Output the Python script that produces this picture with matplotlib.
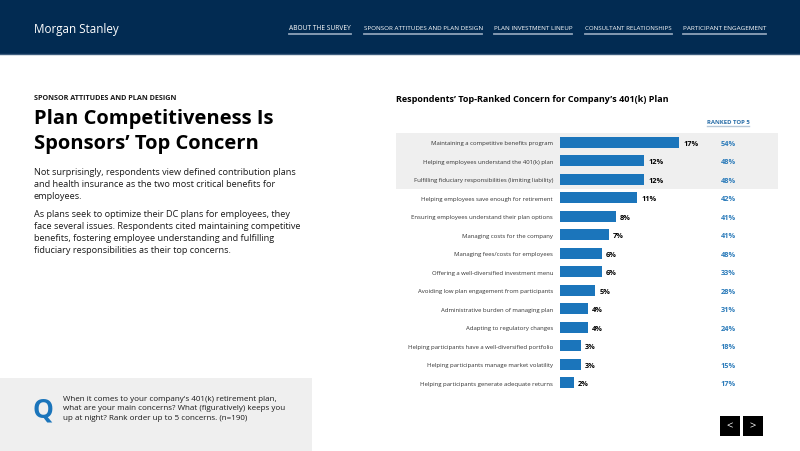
import matplotlib.pyplot as plt
from matplotlib.patches import Rectangle

plt.rcParams['font.family'] = ['Open Sans', 'DejaVu Sans']

# chart data
concerns = [
    'Maintaining a competitive benefits program',
    'Helping employees understand the 401(k) plan',
    'Fulfilling fiduciary responsibilities (limiting liability)',
    'Helping employees save enough for retirement',
    'Ensuring employees understand their plan options',
    'Managing costs for the company',
    'Managing fees/costs for employees',
    'Offering a well-diversified investment menu',
    'Avoiding low plan engagement from participants',
    'Administrative burden of managing plan',
    'Adapting to regulatory changes',
    'Helping participants have a well-diversified portfolio',
    'Helping participants manage market volatility',
    'Helping participants generate adequate returns',
]
top_ranked = [17, 12, 12, 11, 8, 7, 6, 6, 5, 4, 4, 3, 3, 2]
ranked_top5 = [54, 48, 48, 42, 41, 41, 48, 33, 28, 31, 24, 18, 15, 17]
n_highlight = 3

nav_items = ['ABOUT THE SURVEY', 'SPONSOR ATTITUDES AND PLAN DESIGN',
             'PLAN INVESTMENT LINEUP', 'CONSULTANT RELATIONSHIPS',
             'PARTICIPANT ENGAGEMENT']
nav_left = [289, 364, 494, 585, 683]
nav_right = [351, 482, 572, 672, 766]

body_par1 = ('Not surprisingly, respondents view defined contribution plans\n'
             'and health insurance as the two most critical benefits for\n'
             'employees.')
body_par2 = ('As plans seek to optimize their DC plans for employees, they\n'
             'face several issues. Respondents cited maintaining competitive\n'
             'benefits, fostering employee understanding and fulfilling\n'
             'fiduciary responsibilities as their top concerns.')
question = ("When it comes to your company's 401(k) retirement plan,\n"
            "what are your main concerns? What (figuratively) keeps you\n"
            "up at night? Rank order up to 5 concerns. (n=190)")

NAVY = '#022b52'
BLUE = '#1b75bb'
LIGHT_BLUE = '#2b7bba'
GRAY = '#efefef'
TEXT = '#1a1a1a'

W, H = 800, 452
fig = plt.figure(figsize=(W / 100, H / 100), dpi=100)
fig.patch.set_facecolor('white')


def px_box(x0, y0, x1, y1):
    '''Pixel box (top-left origin) to figure fraction rect.'''
    return [x0 / W, 1 - y1 / H, (x1 - x0) / W, (y1 - y0) / H]


# page layer in pixel coordinates
page = fig.add_axes([0, 0, 1, 1])
page.set_xlim(0, W)
page.set_ylim(H, 0)
page.axis('off')

##### Header #####
page.add_patch(Rectangle((0, 0), W, 55, color=NAVY, lw=0))
page.plot([0, W], [55, 55], color='#3d5c7d', lw=1)
page.text(34, 29, 'Morgan Stanley', color='white', fontsize=8.4,
          va='center')

fig.canvas.draw()
renderer = fig.canvas.get_renderer()
for label, x0, x1 in zip(nav_items, nav_left, nav_right):
    t = page.text(x0, 29, label, color='white', fontsize=5, va='center')
    # shrink the label so it fits the tab width
    bb = t.get_window_extent(renderer)
    t.set_fontsize(5 * (x1 - x0) / bb.width)
    page.plot([x0, x1], [35, 35], color='#8ea2b8', lw=1.3)

##### Left text column #####
page.text(34, 98, 'SPONSOR ATTITUDES AND PLAN DESIGN', fontsize=5.2,
          fontweight='bold', color=TEXT, va='center')
page.text(34, 124, 'Plan Competitiveness Is', fontsize=14.5,
          fontweight='bold', color='black', va='baseline')
page.text(34, 149, 'Sponsors\u2019 Top Concern', fontsize=14.5,
          fontweight='bold', color='black', va='baseline')
page.text(34, 168, body_par1, fontsize=6.6, color=TEXT, va='top',
          linespacing=1.42)
page.text(34, 210, body_par2, fontsize=6.6, color=TEXT, va='top',
          linespacing=1.42)

# question box
page.add_patch(Rectangle((0, 379), 312, H - 379, color=GRAY, lw=0))
page.text(33, 410, 'Q', fontsize=19, fontweight='bold', color=BLUE,
          va='center')
page.text(63, 396, question, fontsize=5.75, color=TEXT, va='top',
          linespacing=1.5)

# navigation buttons
for x, sym in [(720, '<'), (743, '>')]:
    page.add_patch(Rectangle((x, 417), 20, 20, color='black', lw=0))
    page.text(x + 10, 427, sym, color='white', fontsize=8, ha='center',
              va='center')

##### Chart #####
page.text(396, 99, 'Respondents\u2019 Top-Ranked Concern for Company\u2019s 401(k) Plan',
          fontsize=6.5, fontweight='bold', color='black', va='center')
t5 = page.text(728, 122, 'RANKED TOP 5', fontsize=4.3, fontweight='bold',
               color='#2a6ea8', ha='center', va='center')
bb = t5.get_window_extent(renderer)
page.plot([728 - bb.width / 2, 728 + bb.width / 2], [127, 127],
          color='#b5c7d8', lw=1)

ax = fig.add_axes(px_box(560, 134, 780, 393))
ax.set_facecolor('none')
ypos = list(range(len(concerns)))
ax.set_xlim(0, 220 / 7)
ax.set_ylim(len(concerns) - 0.5, -0.5)
ax.axhspan(-0.5, n_highlight - 0.5, xmin=(396 - 560) / 220,
           xmax=(778 - 560) / 220, color=GRAY, lw=0, clip_on=False, zorder=0)
ax.barh(ypos, top_ranked, height=0.6, color=BLUE, zorder=2)

for i, v in enumerate(top_ranked):
    ax.text(v + 0.6, i + 0.05, f'{v}%', fontsize=5.3, fontweight='bold',
            color='black', va='center')
for i, v in enumerate(ranked_top5):
    ax.text((728 - 560) / 220, i + 0.05, f'{v}%', fontsize=5.3,
            fontweight='bold', color=LIGHT_BLUE, ha='center', va='center',
            transform=ax.get_yaxis_transform())

ax.set_yticks(ypos, concerns)
for lab in ax.get_yticklabels():
    lab.set_va('center_baseline')
ax.tick_params(axis='y', length=0, pad=5, labelsize=4.3, labelcolor='#333333')
ax.set_xticks([])
for s in ax.spines.values():
    s.set_visible(False)

fig.savefig('out.png', dpi=100)
